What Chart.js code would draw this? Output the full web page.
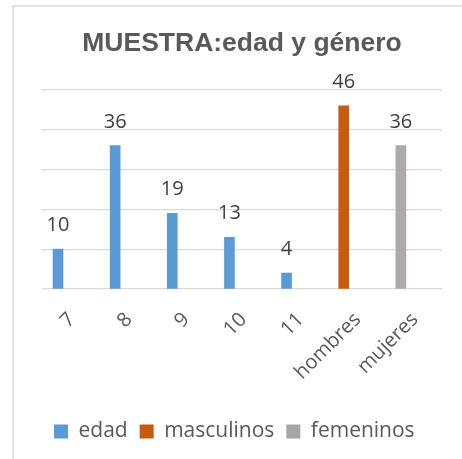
<!DOCTYPE html>
<html lang="es">
<head>
    <meta charset="UTF-8">
    <title>MUESTRA:edad y género</title>
    <script src="https://cdn.jsdelivr.net/npm/chart.js@4"></script>
    <style>
        body {
            margin: 0;
            padding: 0;
            background: #ffffff;
            overflow: hidden;
        }
        #wrap {
            width: 462px;
            height: 459px;
        }
    </style>
</head>
<body>
    <div id="wrap">
        <canvas id="muestra" width="462" height="459"></canvas>
    </div>

    <script>
        const categorias = ['7', '8', '9', '10', '11', 'hombres', 'mujeres'];
        const edad = [10, 36, 19, 13, 4, null, null];
        const masculinos = [null, null, null, null, null, 46, null];
        const femeninos = [null, null, null, null, null, null, 36];
        const yTicks = [0, 10, 20, 30, 40, 50];

        const textColor = '#595959';

        // bars sit a bit left of the middle of each slot in the original
        const xMin = -0.28;
        const xMax = xMin + categorias.length;

        function toPoints(values) {
            return values.map((v, i) => ({ x: i, y: v }));
        }

        // frame round the chart, like the spreadsheet chart border
        const framePlugin = {
            id: 'frame',
            beforeDraw(chart) {
                const ctx = chart.ctx;
                ctx.save();
                ctx.strokeStyle = '#D9D9D9';
                ctx.lineWidth = 1.5;
                ctx.strokeRect(13, 6, 470, 470);
                ctx.restore();
            }
        };

        // value over each bar
        const valueLabels = {
            id: 'valueLabels',
            afterDatasetsDraw(chart) {
                const ctx = chart.ctx;
                ctx.save();
                ctx.font = '20px "Open Sans", sans-serif';
                ctx.fillStyle = '#404040';
                ctx.textAlign = 'center';
                ctx.textBaseline = 'alphabetic';
                chart.data.datasets.forEach((ds, i) => {
                    const meta = chart.getDatasetMeta(i);
                    meta.data.forEach((bar, j) => {
                        const v = ds.data[j].y;
                        if (v === null || v === undefined) return;
                        ctx.fillText(String(v), bar.x, bar.y - 18);
                    });
                });
                ctx.restore();
            }
        };

        const ctx = document.getElementById('muestra').getContext('2d');
        new Chart(ctx, {
            type: 'bar',
            data: {
                datasets: [
                    { label: 'edad', data: toPoints(edad), backgroundColor: '#5B9BD5' },
                    { label: 'masculinos', data: toPoints(masculinos), backgroundColor: '#C55A11' },
                    { label: 'femeninos', data: toPoints(femeninos), backgroundColor: '#AEAAAA' }
                ]
            },
            options: {
                responsive: false,
                animation: false,
                datasets: {
                    bar: {
                        grouped: false,
                        barThickness: 10
                    }
                },
                layout: {
                    padding: { left: 42, right: 20, top: 0, bottom: 7 }
                },
                scales: {
                    x: {
                        type: 'linear',
                        offset: false,
                        min: xMin,
                        max: xMax,
                        afterBuildTicks(scale) {
                            scale.ticks = categorias.map((c, i) => ({ value: i }));
                        },
                        grid: { display: false },
                        border: { display: false },
                        ticks: {
                            color: textColor,
                            font: { family: '"Open Sans", sans-serif', size: 20 },
                            minRotation: 45,
                            maxRotation: 45,
                            padding: 11,
                            labelOffset: 14,
                            autoSkip: false,
                            callback: (value) => categorias[value]
                        },
                        afterFit(scale) {
                            scale.height = 120;
                        }
                    },
                    y: {
                        min: yTicks[0],
                        max: yTicks[yTicks.length - 1],
                        afterBuildTicks(scale) {
                            scale.ticks = yTicks.map(v => ({ value: v }));
                        },
                        ticks: { display: false },
                        grid: { color: '#D9D9D9', lineWidth: 1.3, drawTicks: false },
                        border: { display: false }
                    }
                },
                plugins: {
                    title: {
                        display: true,
                        text: 'MUESTRA:edad y género',
                        color: textColor,
                        font: { family: '"Liberation Sans", Arial, sans-serif', size: 26.5, weight: 'bold' },
                        padding: { top: 28, bottom: 30 }
                    },
                    legend: {
                        position: 'bottom',
                        align: 'start',
                        labels: {
                            color: textColor,
                            font: { family: '"Open Sans", sans-serif', size: 21 },
                            boxWidth: 14,
                            boxHeight: 14,
                            padding: 12,
                            generateLabels(chart) {
                                const items = Chart.defaults.plugins.legend.labels.generateLabels(chart);
                                items.forEach(it => { it.lineWidth = 0; });
                                if (items[2]) items[2].fillStyle = '#A5A5A5';
                                return items;
                            }
                        }
                    },
                    tooltip: { enabled: false }
                }
            },
            plugins: [framePlugin, valueLabels]
        });
    </script>
</body>
</html>
